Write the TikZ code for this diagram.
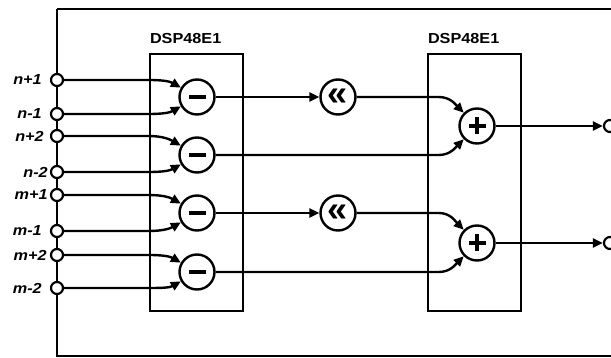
\documentclass[tikz,border=0pt]{standalone}
\usepackage{fontspec}
\setmainfont{Liberation Sans}
\newfontfamily\widesans[FakeStretch=1.12]{Liberation Sans}
\usetikzlibrary{arrows.meta}
\begin{document}
\begin{tikzpicture}[x=1pt,y=-1pt,line width=2.4pt,
  arr/.style={-{Triangle[length=10pt,width=9pt]}},
  port/.style={circle,draw,fill=white,minimum size=12pt,inner sep=0pt,line width=2.2pt},
  op/.style={circle,draw,fill=white,minimum size=35pt,inner sep=0pt},
  minusop/.style={op,path picture={\fill[black] ([xshift=-8.5pt,yshift=-1.9pt]path picture bounding box.center) rectangle ++(17pt,3.8pt);}},
  plusop/.style={op,path picture={
     \fill[black] ([xshift=-8.5pt,yshift=-2pt]path picture bounding box.center) rectangle ++(17pt,4pt);
     \fill[black] ([xshift=-2pt,yshift=-8.5pt]path picture bounding box.center) rectangle ++(4pt,17pt);}},
  shiftop/.style={op,font=\fontsize{36}{36}\selectfont\bfseries},
  dsp/.style={draw,minimum width=93pt,inner sep=0pt},
  lbl/.style={font=\widesans\fontsize{14.5}{16}\selectfont\bfseries,inner sep=0pt,anchor=base west},
  inlbl/.style={font=\widesans\fontsize{14.5}{16}\selectfont\bfseries\itshape,inner sep=0pt,anchor=east}
]
\useasboundingbox (0,0) rectangle (611,358);
\draw (57,9) -- (640,9);
\draw (57,9) -- (57,356) -- (640,356);
\node[dsp,minimum height=257pt] (box1) at (196.5,182.5) {};
\node[dsp,minimum height=257pt] (box2) at (474.5,182.5) {};
\node[lbl] (t1) at ([yshift=9pt]box1.north west) {DSP48E1};
\node[lbl] (t2) at ([yshift=9pt]box2.north west) {DSP48E1};

\node[port] (i1) at (57,80) {};
\node[port] (i2) at (57,114) {};
\node[port] (i3) at (57,136) {};
\node[port] (i4) at (57,172) {};
\node[port] (i5) at (57,195) {};
\node[port] (i6) at (57,231) {};
\node[port] (i7) at (57,255) {};
\node[port] (i8) at (57,288) {};
\node[inlbl] (l1) at ([xshift=-7pt]i1.west) {n+1};
\node[inlbl] (l2) at ([xshift=-7pt]i2.west) {n-1};
\node[inlbl] (l3) at ([xshift=-5pt]i3.west) {n+2};
\node[inlbl] (l4) at ([xshift=-1pt]i4.west) {n-2};
\node[inlbl] (l5) at ([xshift=-1pt]i5.west) {m+1};
\node[inlbl] (l6) at ([xshift=-7pt]i6.west) {m-1};
\node[inlbl] (l7) at ([xshift=-2pt]i7.west) {m+2};
\node[inlbl] (l8) at ([xshift=-7pt]i8.west) {m-2};

\node[minusop] (m1) at (197,97) {};
\node[minusop] (m2) at (197,155) {};
\node[minusop] (m3) at (197,213) {};
\node[minusop] (m4) at (197,272) {};
\node[shiftop] (s1) at (338,97) {«};
\node[shiftop] (s2) at (338,213) {«};
\node[plusop] (p1) at (477,126) {};
\node[plusop] (p2) at (477,243) {};
\node[port] (o1) at (610,126) {};
\node[port] (o2) at (610,243) {};

\draw[arr] (i1.east) -- (box1.west |- i1) to[out=0,in=150] (m1.150);
\draw[arr] (i2.east) -- (box1.west |- i2) to[out=0,in=210] (m1.210);
\draw[arr] (i3.east) -- (box1.west |- i3) to[out=0,in=150] (m2.150);
\draw[arr] (i4.east) -- (box1.west |- i4) to[out=0,in=210] (m2.210);
\draw[arr] (i5.east) -- (box1.west |- i5) to[out=0,in=150] (m3.150);
\draw[arr] (i6.east) -- (box1.west |- i6) to[out=0,in=210] (m3.210);
\draw[arr] (i7.east) -- (box1.west |- i7) to[out=0,in=150] (m4.150);
\draw[arr] (i8.east) -- (box1.west |- i8) to[out=0,in=210] (m4.210);

\draw[arr] (m1.east) -- (s1.west);
\draw[arr] (m3.east) -- (s2.west);
\draw[arr] (s1.east) -- ([xshift=12pt]box2.west |- s1) to[out=0,in=135] (p1.135);
\draw[arr] (m2.east) -- ([xshift=12pt]box2.west |- m2) to[out=0,in=225] (p1.225);
\draw[arr] (s2.east) -- ([xshift=12pt]box2.west |- s2) to[out=0,in=135] (p2.135);
\draw[arr] (m4.east) -- ([xshift=12pt]box2.west |- m4) to[out=0,in=225] (p2.225);
\draw[arr] (p1.east) -- (o1.west);
\draw[arr] (p2.east) -- (o2.west);
\end{tikzpicture}
\end{document}
